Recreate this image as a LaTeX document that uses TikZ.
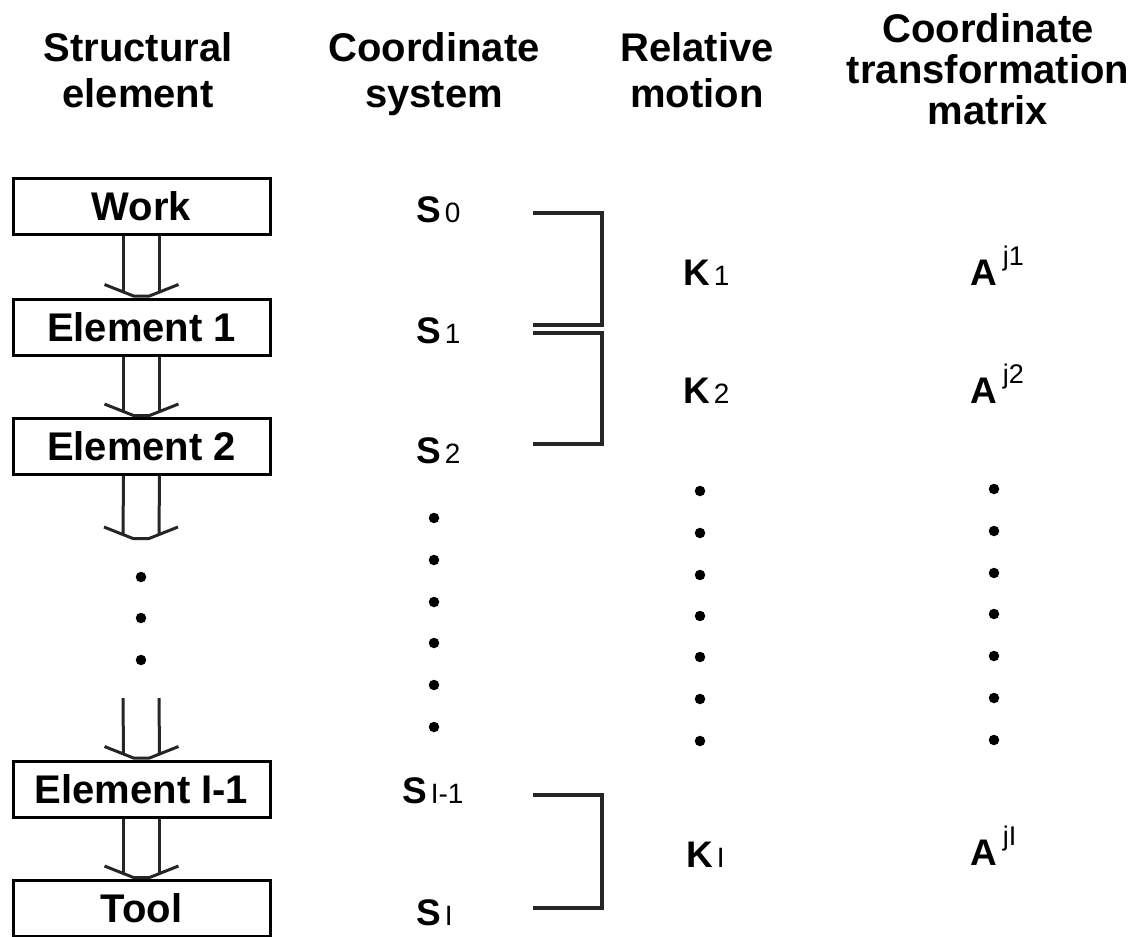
\documentclass[tikz,border=0pt]{standalone}
\usepackage{fontspec}
\setmainfont{Liberation Sans}
\usetikzlibrary{calc}
\tikzset{
  elem/.style={draw=black, line width=3pt, minimum width=257pt, minimum height=56pt, inner sep=0pt,
    font=\fontsize{40}{40}\selectfont\bfseries},
  hdr/.style={inner sep=0pt, anchor=base, font=\fontsize{40}{46}\selectfont\bfseries},
  hdrtight/.style={inner sep=0pt, anchor=base, font=\fontsize{40}{41}\selectfont\bfseries},
  lbl/.style={inner sep=0pt, anchor=base west, font=\fontsize{37}{37}\selectfont\bfseries},
  shaft/.style={draw=black!85, line width=3pt, line join=round},
  brk/.style={draw=black!85, line width=3.5pt},
  dotmark/.style={circle, fill=black, inner sep=0pt, minimum size=10.5pt},
}
\newcommand\subtxt[1]{\hspace{4pt}{\fontsize{28}{28}\selectfont\mdseries #1}}
\newcommand\suptxt[1]{\hspace{6pt}\raisebox{20pt}{\fontsize{27}{27}\selectfont\mdseries #1}}
\newcommand\twinarrow[2]{%
  \draw[shaft] ($(#1)+(-18,0)$) -- ($(#2)+(-18,-5)$);
  \draw[shaft] ($(#1)+(18,0)$) -- ($(#2)+(18,-5)$);
  \draw[shaft] ($(#2)+(-37,-13)$) -- ($(#2)+(-8,-1.5)$) -- ($(#2)+(8,-1.5)$) -- ($(#2)+(37,-13)$);
}
\begin{document}
\begin{tikzpicture}[x=1pt,y=-1pt]
\useasboundingbox (0,0) rectangle (1138,937);
% headers
\node[hdr] (h1) at (138,61) {\begin{tabular}[t]{@{}c@{}}Structural\\element\end{tabular}};
\node[hdr] (h2) at (434,61) {\begin{tabular}[t]{@{}c@{}}Coordinate\\system\end{tabular}};
\node[hdr] (h3) at (697,61) {\begin{tabular}[t]{@{}c@{}}Relative\\motion\end{tabular}};
\node[hdrtight] (h4) at (988,42) {\begin{tabular}[t]{@{}c@{}}Coordinate\\transformation\\matrix\end{tabular}};
% structural elements
\node[elem] (work) at (141.5,206) {Work};
\node[elem] (el1) at (141.5,327) {Element 1};
\node[elem] (el2) at (141.5,446.5) {Element 2};
\node[elem] (elI1) at (141.5,789) {Element I-1};
\node[elem] (tool) at (141.5,908.5) {Tool};
\coordinate (gapA) at (141,540);
\coordinate (gapB) at (141,698);
\twinarrow{work.south}{el1.north}
\twinarrow{el1.south}{el2.north}
\twinarrow{el2.south}{gapA}
\twinarrow{gapB}{elI1.north}
\twinarrow{elI1.south}{tool.north}
\foreach \yy [count=\i] in {577,618,660} \node[dotmark] (da\i) at (141,\yy) {};
% coordinate systems
\node[lbl] (s0) at (416,222) {S\subtxt{0}};
\node[lbl] (s1) at (416,343) {S\subtxt{1}};
\node[lbl] (s2) at (416,463) {S\subtxt{2}};
\node[lbl] (sI1) at (402,803) {S\subtxt{I-1}};
\node[lbl] (sI) at (416,925) {S\subtxt{I}};
\foreach \yy [count=\i] in {518,560,602,643,685,727} \node[dotmark] (db\i) at (434,\yy) {};
% brackets
\coordinate (b0) at (533,213);
\coordinate (b1) at (533,325);
\coordinate (b1b) at (533,333);
\coordinate (b2) at (533,444);
\coordinate (bI1) at (533,795);
\coordinate (bI) at (533,908);
\draw[brk] (b0) -- ++(69,0) |- (b1);
\draw[brk] (b1b) -- ++(69,0) |- (b2);
\draw[brk] (bI1) -- ++(69,0) |- (bI);
% relative motion
\node[lbl] (k1) at (683,285) {K\subtxt{1}};
\node[lbl] (k2) at (683,403) {K\subtxt{2}};
\node[lbl] (kI) at (686,867) {K\subtxt{I}};
\foreach \yy [count=\i] in {491,533,575,616,657,699,741} \node[dotmark] (dc\i) at (700,\yy) {};
% transformation matrices
\node[lbl] (a1) at (970,285) {A\suptxt{j1}};
\node[lbl] (a2) at (970,403) {A\suptxt{j2}};
\node[lbl] (aI) at (970,865) {A\suptxt{jI}};
\foreach \yy [count=\i] in {489,531,573,614,656,698,740} \node[dotmark] (dd\i) at (994,\yy) {};
\end{tikzpicture}
\end{document}
